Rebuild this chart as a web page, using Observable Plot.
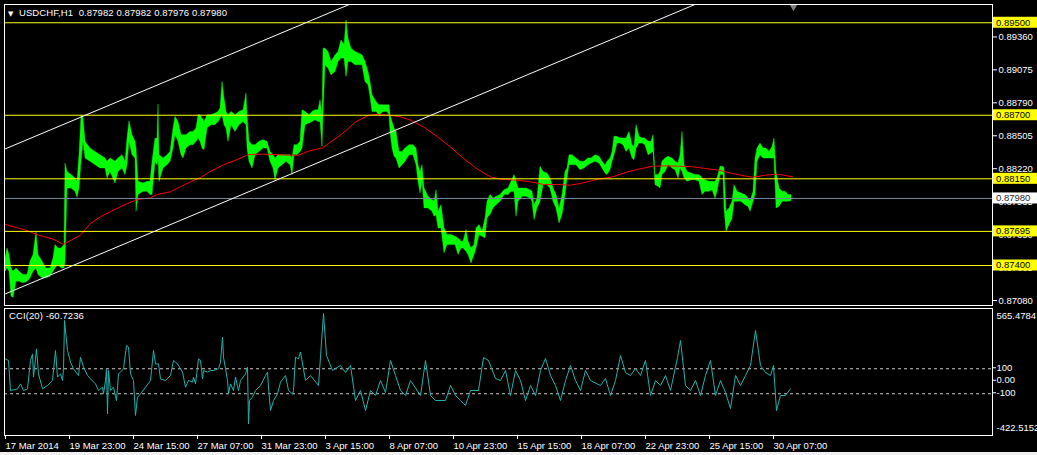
<!DOCTYPE html>
<html><head><meta charset="utf-8">
<script src="https://cdn.jsdelivr.net/npm/d3@7"></script>
<script src="https://cdn.jsdelivr.net/npm/@observablehq/plot@0.6"></script>
<style>
html,body{margin:0;padding:0;background:#f0f0f0;}
#wrap{position:relative;width:1037px;height:452px;background:#000;overflow:hidden;font-family:"Liberation Sans",Arial,sans-serif;}
#main,#cci{position:absolute;left:0;}
#main{top:0}
#cci{top:306px}
.hdr{position:absolute;color:#fff;font-size:9.5px;line-height:11px;white-space:pre;letter-spacing:0.1px;}
.tri{font-family:"DejaVu Sans";font-size:7px;}
</style></head><body>
<div id="wrap">
 <div id="main"></div><div id="cci"></div>
 <div class="hdr" style="left:8px;top:7px"><span class="tri">▼</span>  USDCHF,H1  0.87982 0.87982 0.87976 0.87980</div>
 <div class="hdr" style="left:9px;top:310px">CCI(20) -60.7236</div>
</div>
<script>
// ---- data (bar index = hourly bar count from 17 Mar 2014 00:00) ----
const timeTicks = [0,64,128,192,256,320,384,448,512,576,640,704,768];
const timeLabels = ["17 Mar 2014","19 Mar 23:00","24 Mar 15:00","27 Mar 07:00","31 Mar 23:00","3 Apr 15:00","8 Apr 07:00","10 Apr 23:00","15 Apr 15:00","18 Apr 07:00","22 Apr 23:00","25 Apr 15:00","30 Apr 07:00"];
const priceTicks = [0.8936,0.89075,0.8879,0.88505,0.8822,0.87935,0.8765,0.87365,0.8708];
const levels = [0.895,0.887,0.8815,0.87695,0.874];
const currentPrice = 0.8798;
const cciTicks = [565.4784,100,0,-100,-422.5152];
const cciLevels = [100,-100];
// [bar, high, low]
const priceBars = [
[0,0.87462,0.87346],[2,0.87548,0.87375],[4,0.87490,0.87346],[6,0.87375,0.87130],[8,0.87346,0.87122],[11,0.87375,0.87260],[14,0.87346,0.87260],[18,0.87318,0.87246],[22,0.87318,0.87260],[25,0.87433,0.87289],[28,0.87490,0.87346],[31,0.87692,0.87375],[33,0.87490,0.87318],[37,0.87433,0.87289],[41,0.87375,0.87289],[45,0.87375,0.87303],[48,0.87462,0.87346],[50,0.87577,0.87375],[53,0.87548,0.87404],[56,0.87548,0.87375],[59,0.87577,0.87375],[60,0.88282,0.87433],[62,0.88210,0.88066],[66,0.88182,0.88066],[70,0.88153,0.88038],[72,0.88124,0.87986],[74,0.88354,0.88066],[76,0.88700,0.88297],[78,0.88671,0.88470],[80,0.88470,0.88326],[85,0.88412,0.88297],[90,0.88383,0.88268],[95,0.88354,0.88239],[100,0.88326,0.88239],[102,0.88297,0.88153],[105,0.88326,0.88210],[110,0.88297,0.88110],[113,0.88326,0.88210],[117,0.88354,0.88239],[120,0.88297,0.88182],[122,0.88498,0.88268],[124,0.88648,0.88470],[127,0.88527,0.88354],[130,0.88470,0.88326],[131,0.88412,0.87865],[133,0.88124,0.88009],[138,0.88110,0.88038],[142,0.88124,0.88038],[145,0.88124,0.88009],[147,0.88297,0.88009],[150,0.88498,0.88297],[152,0.88498,0.88268],[153,0.88792,0.88326],[154,0.88354,0.88124],[158,0.88326,0.88239],[162,0.88354,0.88268],[165,0.88383,0.88297],[168,0.88585,0.88412],[170,0.88686,0.88527],[173,0.88642,0.88470],[176,0.88527,0.88354],[178,0.88527,0.88326],[181,0.88527,0.88412],[185,0.88556,0.88441],[188,0.88556,0.88441],[191,0.88585,0.88470],[193,0.88700,0.88498],
[195,0.88700,0.88470],[197,0.88671,0.88412],[199,0.88642,0.88398],[202,0.88700,0.88585],[206,0.88700,0.88614],[210,0.88714,0.88614],[213,0.88729,0.88642],[215,0.88758,0.88671],[217,0.88988,0.88700],[219,0.88844,0.88614],[221,0.88729,0.88585],[223,0.88700,0.88470],[226,0.88729,0.88614],[230,0.88700,0.88556],[234,0.88729,0.88614],[238,0.88743,0.88642],[241,0.88887,0.88614],[242,0.88700,0.88412],[244,0.88470,0.88297],[247,0.88441,0.88239],[250,0.88441,0.88354],[254,0.88470,0.88383],[258,0.88484,0.88412],[262,0.88470,0.88412],[265,0.88383,0.88297],[268,0.88354,0.88239],[270,0.88326,0.88138],[273,0.88354,0.88239],[277,0.88354,0.88268],[281,0.88354,0.88297],[285,0.88354,0.88268],[287,0.88326,0.88182],[289,0.88441,0.88354],[292,0.88441,0.88354],[295,0.88470,0.88383],[297,0.88743,0.88412],[300,0.88729,0.88614],[304,0.88700,0.88628],[307,0.88729,0.88642],[310,0.88743,0.88657],[313,0.88743,0.88642],[315,0.88830,0.88642],[317,0.88700,0.88426],[318,0.89276,0.88700],[320,0.89276,0.89132],[323,0.89247,0.89103],[326,0.89161,0.89046],[330,0.89218,0.89074],[333,0.89247,0.89161],[336,0.89348,0.89190],[339,0.89305,0.89190],[341,0.89521,0.89031],[343,0.89362,0.89161],[346,0.89276,0.89161],[350,0.89247,0.89132],[354,0.89233,0.89132],[357,0.89218,0.89132],[360,0.89161,0.88988],[363,0.89074,0.88959],[365,0.88988,0.88858],[367,0.88873,0.88729],[371,0.88815,0.88729],[374,0.88786,0.88700],[378,0.88786,0.88729],[382,0.88786,0.88729],[384,0.88786,0.88700],[385,0.88700,0.88556],[387,0.88642,0.88412],[389,0.88585,0.88340],
[391,0.88556,0.88326],[394,0.88383,0.88239],[397,0.88383,0.88268],[400,0.88412,0.88297],[404,0.88441,0.88354],[408,0.88441,0.88354],[411,0.88412,0.88268],[413,0.88268,0.88124],[415,0.88210,0.88023],[417,0.88268,0.88124],[419,0.88066,0.87894],[423,0.87994,0.87894],[427,0.87966,0.87865],[429,0.87951,0.87822],[431,0.88052,0.87836],[433,0.87865,0.87721],[436,0.87922,0.87721],[439,0.87721,0.87505],[442,0.87663,0.87577],[446,0.87663,0.87577],[450,0.87649,0.87577],[453,0.87634,0.87490],[456,0.87606,0.87548],[458,0.87606,0.87548],[461,0.87706,0.87519],[463,0.87606,0.87490],[466,0.87548,0.87418],[469,0.87577,0.87490],[471,0.87721,0.87548],[474,0.87750,0.87663],[477,0.87692,0.87649],[480,0.87807,0.87634],[482,0.87951,0.87807],[485,0.88009,0.87836],[488,0.87980,0.87894],[491,0.87994,0.87922],[495,0.88009,0.87951],[499,0.88052,0.88009],[503,0.88066,0.88009],[506,0.88124,0.88038],[509,0.88182,0.88038],[511,0.88124,0.87822],[513,0.88066,0.87951],[517,0.88066,0.87994],[521,0.88066,0.87994],[525,0.88052,0.87980],[527,0.88038,0.87951],[529,0.87922,0.87793],[532,0.87980,0.87894],[535,0.88254,0.87951],[538,0.88210,0.88095],[542,0.88196,0.88095],[545,0.88153,0.88066],[548,0.88066,0.87951],[551,0.88009,0.87894],[554,0.87894,0.87764],[557,0.88009,0.87836],[560,0.88210,0.88009],[562,0.88239,0.88153],[564,0.88354,0.88268],[567,0.88354,0.88268],[571,0.88326,0.88268],[575,0.88297,0.88225],[579,0.88297,0.88239],[583,0.88326,0.88268],
[586,0.88326,0.88282],[590,0.88354,0.88297],[594,0.88340,0.88282],[597,0.88297,0.88239],[600,0.88268,0.88196],[602,0.88297,0.88182],[605,0.88326,0.88225],[607,0.88383,0.88297],[609,0.88513,0.88354],[612,0.88513,0.88455],[615,0.88498,0.88455],[618,0.88498,0.88441],[621,0.88498,0.88383],[624,0.88556,0.88412],[627,0.88441,0.88326],[629,0.88426,0.88311],[631,0.88614,0.88412],[634,0.88513,0.88455],[637,0.88498,0.88455],[640,0.88498,0.88441],[643,0.88470,0.88354],[646,0.88470,0.88369],[648,0.88527,0.88383],[650,0.88182,0.88095],[653,0.88182,0.88081],[655,0.88210,0.88066],[657,0.88297,0.88182],[660,0.88326,0.88210],[663,0.88340,0.88268],[667,0.88326,0.88239],[670,0.88297,0.88225],[673,0.88282,0.88153],[675,0.88354,0.88239],[677,0.88556,0.88210],[679,0.88268,0.88153],[682,0.88210,0.88124],[686,0.88196,0.88138],[690,0.88182,0.88138],[694,0.88182,0.88124],[697,0.88153,0.88009],[700,0.88138,0.88038],[704,0.88124,0.88038],[707,0.88124,0.88052],[710,0.88124,0.87980],[712,0.88153,0.88038],[715,0.88254,0.88182],[718,0.88254,0.88182],[719,0.88239,0.87894],[721,0.87865,0.87692],[724,0.87894,0.87750],[727,0.87951,0.87807],[729,0.88095,0.87951],[732,0.88038,0.87951],[736,0.88023,0.87951],[740,0.88009,0.87922],[743,0.87980,0.87908],[745,0.87951,0.87865],[748,0.88038,0.87951],[750,0.88326,0.88009],[752,0.88412,0.88297],[755,0.88455,0.88354],[758,0.88412,0.88326],[761,0.88412,0.88326],[764,0.88383,0.88326],[767,0.88426,0.88326],[769,0.88498,0.88326],[771,0.88210,0.87894],[774,0.88066,0.87908],[777,0.88038,0.87951],[780,0.88038,0.87951],[783,0.88009,0.87951],[786,0.88009,0.87957]
];
// [bar, moving average]
const maPoints = [[0,0.87755],[20,0.87706],[33,0.87663],[47,0.87629],[58,0.87583],[75,0.87663],[85,0.87764],[95,0.87822],[108,0.87879],[122,0.87937],[132,0.87971],[145,0.87986],[152,0.88015],[165,0.88038],[175,0.88081],[185,0.88124],[195,0.88161],[203,0.88205],[217,0.88268],[230,0.88311],[243,0.88360],[257,0.88363],[270,0.88360],[283,0.88354],[293,0.88354],[303,0.88389],[317,0.88418],[323,0.88455],[337,0.88542],[350,0.88642],[363,0.88700],[370,0.88706],[383,0.88700],[395,0.88686],[405,0.88657],[418,0.88599],[432,0.88513],[445,0.88426],[458,0.88326],[472,0.88233],[485,0.88167],[495,0.88147],[512,0.88138],[525,0.88124],[538,0.88101],[552,0.88101],[565,0.88095],[575,0.88110],[585,0.88130],[593,0.88147],[607,0.88167],[620,0.88205],[633,0.88233],[647,0.88259],[660,0.88262],[673,0.88259],[687,0.88254],[700,0.88239],[713,0.88225],[727,0.88196],[740,0.88173],[747,0.88164],[760,0.88182],[773,0.88190],[787,0.88167]];
// channel anchor points [bar, price]
const channelUpper = [[0,0.88410],[360,0.89717]];
const channelLower = [[0,0.87155],[720,0.89769]];
// [bar, CCI(20)]
const cciPoints = [[0,179],[3,166],[5,-74],[12,-61],[15,-21],[18,-74],[22,-61],[25,166],[27,219],[28,33],[31,259],[33,59],[37,-61],[42,-34],[47,6],[50,246],[52,33],[55,59],[57,6],[58,99],[59,486],[62,246],[65,153],[68,99],[73,46],[75,193],[78,113],[82,46],[85,19],[90,-21],[93,-74],[97,-47],[98,-101],[100,6],[101,99],[102,-261],[103,86],[105,-74],[108,-47],[111,-154],[113,59],[118,99],[121,286],[123,273],[125,59],[128,6],[130,-274],[132,-127],[135,-101],[140,-47],[145,6],[148,246],[150,139],[153,139],[155,19],[160,6],[165,46],[168,166],[172,139],[177,73],[180,-47],[183,6],[187,-7],[188,33],[190,-21],[193,179],[195,166],[197,19],[198,86],[202,73],[205,86],[208,86],[213,99],[215,153],[217,353],[218,193],[222,6],[223,-101],[225,-21],[228,-74],[230,33],[233,-74],[235,6],[240,59],[242,113],[243,-341],[244,-154],[247,-127],[250,-74],[255,-34],[260,46],[262,73],[263,-47],[265,-234],[268,-154],[272,-101],[275,-7],[280,46],[283,-74],[287,-101],[288,-74],[290,193],[293,179],[295,233],[300,6],[305,46],[313,-34],[318,542],[321,206],[327,86],[335,126],[340,70],[345,126],[350,-154],[355,-74],[360,-234],[365,-74],[370,-114],[375,6],[380,-90],[385,166],[390,46],[395,-74],[400,-114],[405,6],[415,-114],[420,166],[425,-114],[430,-154],[440,-154],[445,-34],[450,-114],[455,-154],[460,-194],[465,-74],[473,-74],[478,190],[483,166],[490,22],[495,6],[500,86],[505,-114],[510,86],[515,6],[520,-154],[525,-34],[530,-114],[535,86],[540,182],[545,46],[550,-34],[555,-154],[560,6],[565,126],[570,6],[575,-74],[580,86],[585,6],[595,-34],[600,22],[605,-114],[610,6],[615,206],[620,70],[625,46],[630,102],[635,46],[640,166],[645,-114],[650,6],[655,-34],[660,46],[665,-74],[672,190],[675,326],[680,-34],[685,-74],[690,6],[695,-114],[700,46],[705,166],[710,-114],[715,6],[720,-90],[725,-218],[730,46],[735,-34],[740,46],[745,126],[750,406],[755,126],[760,70],[765,46],[768,126],[771,-234],[775,-114],[780,-114],[785,-61]];

// ---- layout ----
const W = 1037;
const MR = 45;
const xDomain = [-1, 987];
const FONT = "Liberation Sans, Arial, sans-serif";
const baseStyle = {background: "transparent", color: "#fff", fontFamily: FONT, fontSize: "9.5px", overflow: "visible"};
const lastBar = priceBars[priceBars.length - 1][0];

const main = Plot.plot({
  width: W, height: 306,
  marginLeft: 4, marginRight: MR, marginTop: 4, marginBottom: 1,
  style: baseStyle,
  x: {domain: xDomain, axis: null},
  y: {domain: [0.87054, 0.89658], axis: null},
  marks: [
    Plot.areaY(priceBars, {x: d => d[0], y1: d => d[2], y2: d => d[1], fill: "#00ff00", stroke: "#00ff00", strokeWidth: 0.4}),
    Plot.line(maPoints, {x: d => d[0], y: d => d[1], stroke: "#ff0000", strokeWidth: 1}),
    Plot.ruleY(levels, {stroke: "#ffff00", strokeWidth: 1}),
    Plot.ruleY([currentPrice], {stroke: "#778899", strokeWidth: 1}),
    Plot.line(channelUpper, {x: d => d[0], y: d => d[1], stroke: "#ffffff", strokeWidth: 1, clip: true}),
    Plot.line(channelLower, {x: d => d[0], y: d => d[1], stroke: "#ffffff", strokeWidth: 1, clip: true}),
    Plot.axisY(priceTicks, {anchor: "right", tickSize: 4, tickPadding: 2, tickFormat: d => d.toFixed(5), stroke: "#fff", fill: "#fff", dy: -2, fontSize: 9.5}),
    Plot.dot([lastBar + 2], {x: d => d, frameAnchor: "top", symbol: "triangle", rotate: 180, r: 3, fill: "#808080", stroke: "none", dy: 2}),
    Plot.frame({stroke: "#fff"})
  ]
});
document.getElementById("main").appendChild(main);

// level price boxes on the right scale, positioned with Plot's own y scale
const ys = main.scale("y");
const boxes = levels.map(v => ({v, bg: "#ffff00", fg: "#000"})).concat([{v: currentPrice, bg: "#ffffff", fg: "#1c2a3a"}]);
const g = d3.select(main).append("g").attr("font-family", FONT).attr("font-size", 9.5).attr("text-anchor", "start");
const bx = W - MR + 1;
g.selectAll("rect").data(boxes).join("rect")
  .attr("x", bx).attr("y", d => ys.apply(d.v) - 5.5).attr("width", MR).attr("height", 11).attr("fill", d => d.bg);
g.selectAll("text").data(boxes).join("text")
  .attr("x", bx + 3).attr("y", d => ys.apply(d.v)).attr("dy", "0.35em").attr("fill", d => d.fg)
  .text(d => d.v.toFixed(5));

const cciFmt = d => d === 0 ? "0.00" : (Number.isInteger(d) ? String(d) : d.toFixed(4));
const cci = Plot.plot({
  width: W, height: 146,
  marginLeft: 4, marginRight: MR, marginTop: 2, marginBottom: 17,
  style: baseStyle,
  x: {domain: xDomain, axis: null},
  y: {domain: [-434, 582], axis: null},
  marks: [
    Plot.ruleY(cciLevels, {stroke: "#c8c8c8", strokeDasharray: "3,3"}),
    Plot.line(cciPoints, {x: d => d[0], y: d => d[1], stroke: "#20b2aa", strokeWidth: 1}),
    Plot.axisX(timeTicks, {anchor: "bottom", tickSize: 4, tickPadding: 3, tickFormat: d => timeLabels[timeTicks.indexOf(d)], textAnchor: "start", dx: 0, stroke: "#fff", fill: "#fff", fontSize: 9.5}),
    Plot.axisY(cciTicks.slice(1, 4), {anchor: "right", tickSize: 3, tickPadding: 1, tickFormat: cciFmt, stroke: "#fff", fill: "#fff", dy: -1, fontSize: 9.5}),
    Plot.axisY([cciTicks[0]], {anchor: "right", tickSize: 0, tickPadding: 4, tickFormat: cciFmt, fill: "#fff", dy: 5, fontSize: 9.5}),
    Plot.axisY([cciTicks[4]], {anchor: "right", tickSize: 0, tickPadding: 4, tickFormat: cciFmt, fill: "#fff", dy: -6, fontSize: 9.5}),
    Plot.frame({stroke: "#fff"})
  ]
});
document.getElementById("cci").appendChild(cci);
</script>
</body></html>
